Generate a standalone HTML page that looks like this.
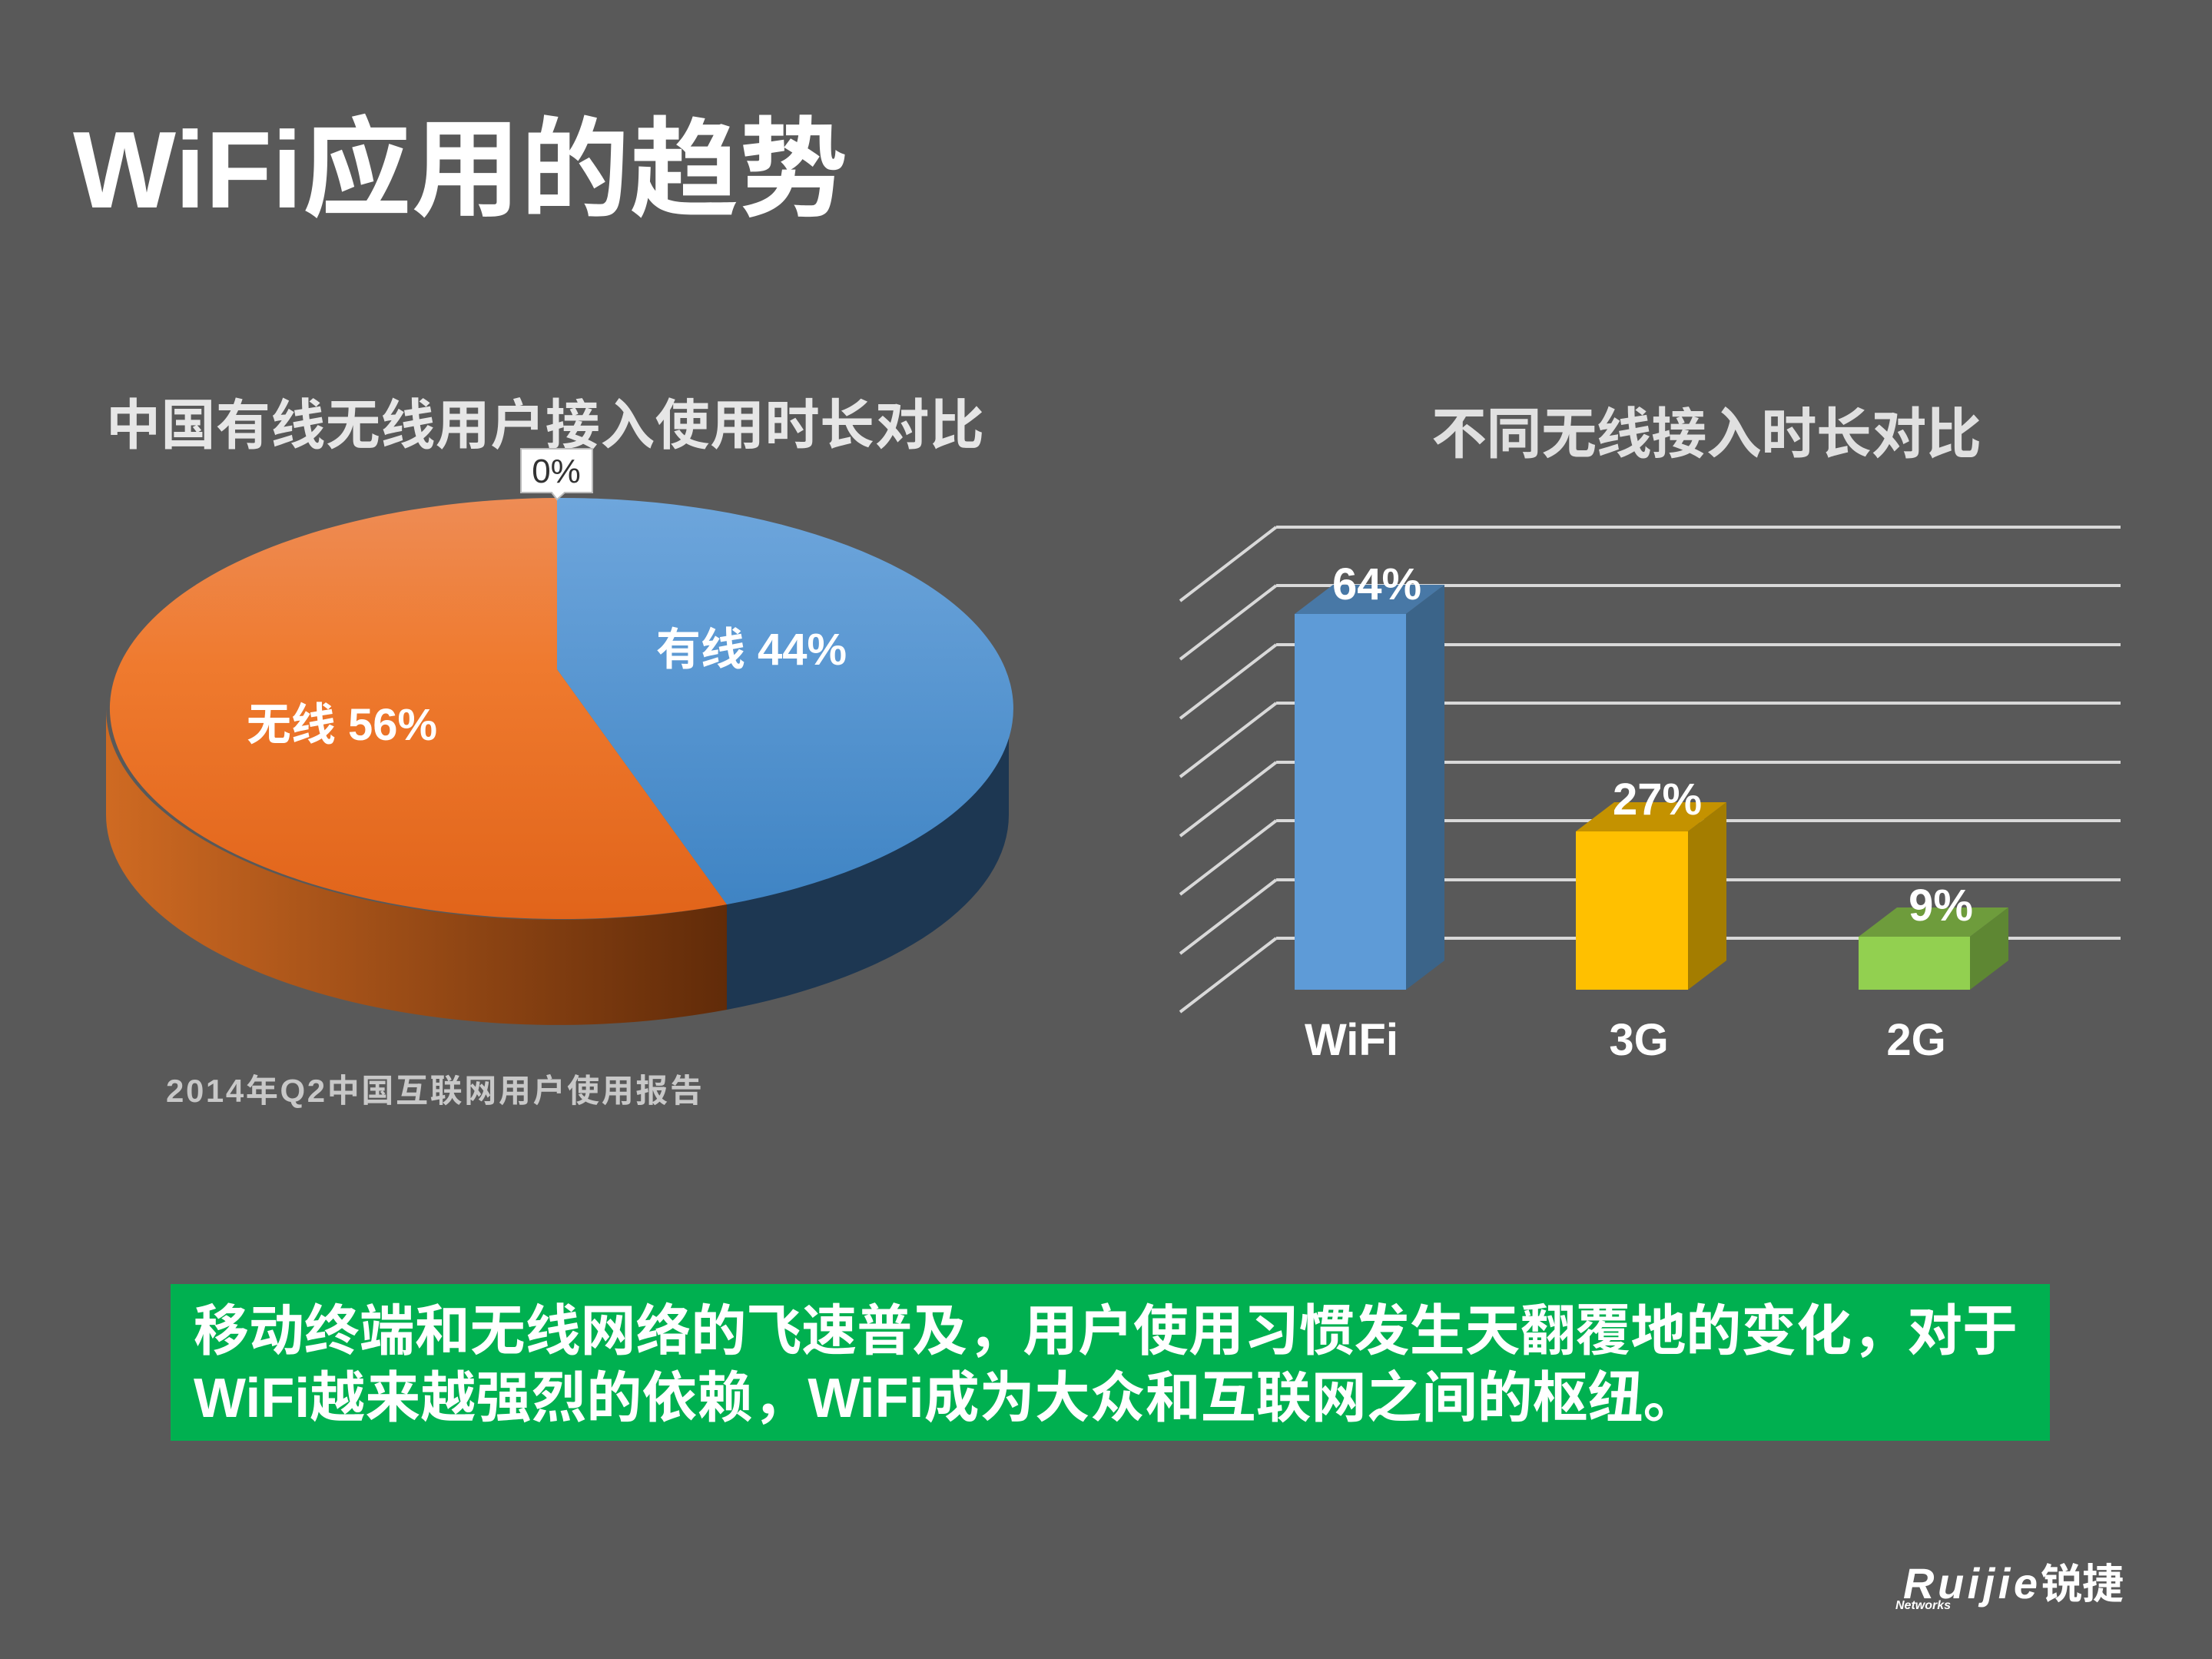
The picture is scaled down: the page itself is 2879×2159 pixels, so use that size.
<!DOCTYPE html>
<html><head><meta charset="utf-8"><style>
html,body{margin:0;padding:0;background:#595959;}
svg{display:block}
text{font-family:"Liberation Sans","Noto Sans CJK SC",sans-serif;font-weight:bold}
text.n{font-weight:normal}
</style></head><body>
<svg width="2879" height="2159" viewBox="0 0 2879 2159" xmlns="http://www.w3.org/2000/svg">
<defs>
<linearGradient id="oTop" x1="0" y1="0" x2="0" y2="1"><stop offset="0" stop-color="#ee8c55"/><stop offset="0.4" stop-color="#ef7a2e"/><stop offset="1" stop-color="#e1641a"/></linearGradient>
<linearGradient id="bTop" x1="0" y1="0" x2="0" y2="1"><stop offset="0" stop-color="#6ea6dc"/><stop offset="1" stop-color="#3f84c4"/></linearGradient>
<linearGradient id="oSide" x1="0" y1="0" x2="1" y2="0"><stop offset="0" stop-color="#cf6a22"/><stop offset="1" stop-color="#612b09"/></linearGradient>
</defs>
<rect width="2879" height="2159" fill="#595959"/>
<text x="95" y="270" font-size="142" fill="#ffffff">WiFi应用的趋势</text>

<!-- Pie -->
<text x="138" y="578" font-size="71" fill="#e6e6e6" textLength="1143">中国有线无线用户接入使用时长对比</text>
<path d="M138,922 A588,274 0 0 0 946,1177 L946,1314 A588,274 0 0 1 138,1059 Z" fill="url(#oSide)"/>
<path d="M946,1177 A588,274 0 0 0 1313,922 L1313,1059 A588,274 0 0 1 946,1314 Z" fill="#1d3752"/>
<path d="M725,871 L725,648 A588,274 0 1 0 946,1177 Z" fill="url(#oTop)"/>
<path d="M725,871 L725,648 A588,274 0 0 1 946,1177 Z" fill="url(#bTop)"/>
<path d="M678,584 L771,584 L771,641 L735,641 L725,650 L718,641 L678,641 Z" fill="#ffffff" stroke="#bbbbbb" stroke-width="2"/>
<text class="n" x="724" y="628" font-size="44" fill="#333" text-anchor="middle">0%</text>
<text x="978" y="865" font-size="58" fill="#ffffff" text-anchor="middle">有线  44%</text>
<text x="445" y="963" font-size="58" fill="#ffffff" text-anchor="middle">无线  56%</text>
<text x="216" y="1434" font-size="42" fill="#c8c8c8" textLength="698">2014年Q2中国互联网用户使用报告</text>

<!-- Bar chart -->
<text x="1863" y="590" font-size="72" fill="#e0e0e0" textLength="716">不同无线接入时长对比</text>
<g stroke="#d9d9d9" stroke-width="4" fill="none">
<path d="M1661,686 H2760 M1661,686 L1536,782"/>
<path d="M1661,762 H2760 M1661,762 L1536,858"/>
<path d="M1661,839 H2760 M1661,839 L1536,935"/>
<path d="M1661,915 H2760 M1661,915 L1536,1011"/>
<path d="M1661,992 H2760 M1661,992 L1536,1088"/>
<path d="M1661,1068 H2760 M1661,1068 L1536,1164"/>
<path d="M1661,1145 H2760 M1661,1145 L1536,1241"/>
<path d="M1661,1221 H2760 M1661,1221 L1536,1317"/>
</g>
<rect x="1685" y="799" width="145" height="489" fill="#5e9bd7"/>
<path d="M1685,799 L1735,761 L1880,761 L1830,799 Z" fill="#4878a6"/>
<path d="M1830,799 L1880,761 L1880,1250 L1830,1288 Z" fill="#3b6489"/>
<rect x="2051" y="1082" width="146" height="206" fill="#ffc000"/>
<path d="M2051,1082 L2101,1044 L2247,1044 L2197,1082 Z" fill="#c49200"/>
<path d="M2197,1082 L2247,1044 L2247,1250 L2197,1288 Z" fill="#a47d00"/>
<rect x="2419" y="1219" width="145" height="69" fill="#92d050"/>
<path d="M2419,1219 L2469,1181 L2614,1181 L2564,1219 Z" fill="#6e9c3c"/>
<path d="M2564,1219 L2614,1181 L2614,1250 L2564,1288 Z" fill="#5e8733"/>
<text x="1792" y="780" font-size="58" fill="#fff" text-anchor="middle">64%</text>
<text x="2157" y="1060" font-size="58" fill="#fff" text-anchor="middle">27%</text>
<text x="2526" y="1198" font-size="58" fill="#fff" text-anchor="middle">9%</text>
<text x="1759" y="1373" font-size="58" fill="#fff" text-anchor="middle">WiFi</text>
<text x="2133" y="1373" font-size="58" fill="#fff" text-anchor="middle">3G</text>
<text x="2494" y="1373" font-size="58" fill="#fff" text-anchor="middle">2G</text>

<rect x="222" y="1671" width="2446" height="204" fill="#00b050"/>
<text x="252" y="1757" font-size="72" fill="#fff" textLength="2374">移动终端和无线网络的飞速普及，用户使用习惯发生天翻覆地的变化，对于</text>
<text x="252" y="1844" font-size="72" fill="#fff">WiFi越来越强烈的依赖，WiFi成为大众和互联网之间的枢纽。</text>

<text x="2477" y="2080" font-size="56" fill="#fff" font-style="italic" textLength="175">Ruijie</text>
<text x="2656" y="2080" font-size="54" fill="#fff">锐捷</text>
<text x="2467" y="2094" font-size="16" fill="#fff" font-style="italic">Networks</text>
</svg>
</body></html>
